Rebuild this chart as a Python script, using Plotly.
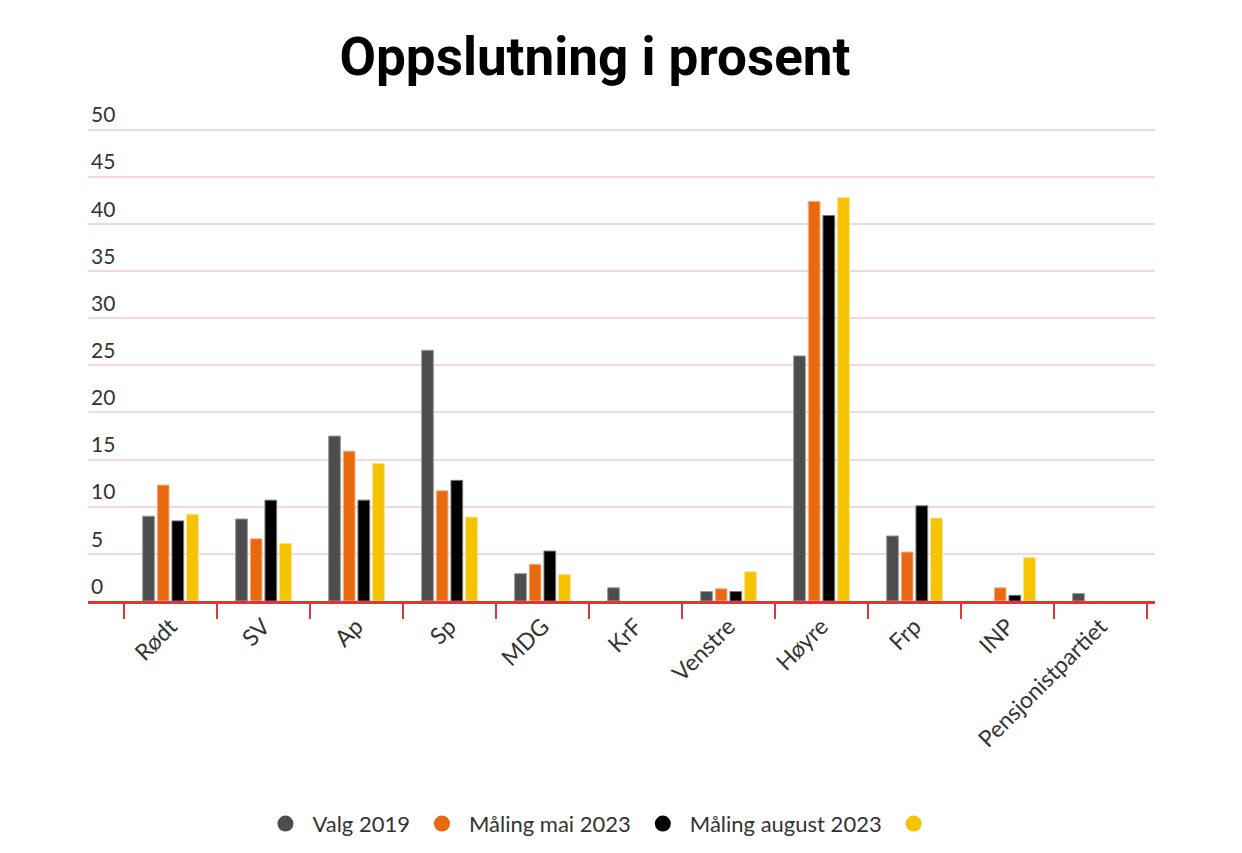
import plotly.graph_objects as go

categories = ["Rødt", "SV", "Ap", "Sp", "MDG", "KrF", "Venstre", "Høyre", "Frp", "INP", "Pensjonistpartiet"]
series_names = ["Valg 2019", "Måling mai 2023", "Måling august 2023", ""]
valg_2019 = [9.0, 8.7, 17.5, 26.6, 2.9, 1.4, 1.0, 26.0, 6.9, None, 0.8]
maling_mai_2023 = [12.3, 6.6, 15.9, 11.7, 3.9, None, 1.3, 42.4, 5.2, 1.4, None]
maling_aug_2023 = [8.5, 10.7, 10.7, 12.8, 5.3, None, 1.0, 40.9, 10.1, 0.6, None]
serie_4 = [9.2, 6.1, 14.6, 8.9, 2.8, None, 3.1, 42.8, 8.8, 4.6, None]
y_ticks = [0, 5, 10, 15, 20, 25, 30, 35, 40, 45, 50]

colors = ["#4d4d4d", "#e8690f", "#000000", "#f5c300"]
outline = ["#9a9a9a", "#f6b48a", "#777777", "#fae08a"]
all_values = [valg_2019, maling_mai_2023, maling_aug_2023, serie_4]

fig = go.Figure()
for name, vals, c, oc in zip(series_names, all_values, colors, outline):
    fig.add_trace(go.Bar(
        x=categories, y=vals, name=name, showlegend=False,
        marker=dict(color=c, line=dict(color=oc, width=1)),
        hoverinfo="x+y",
    ))
# legend entries with circular symbols
for name, c in zip(series_names, colors):
    fig.add_trace(go.Scatter(
        x=[None], y=[None], mode="markers", name=name if name else " ",
        marker=dict(color=c, size=22, symbol="circle"),
        showlegend=True,
    ))

text_font = "Lato, 'Open Sans', 'Noto Sans', sans-serif"

fig.update_layout(
    width=1242, height=853,
    paper_bgcolor="white", plot_bgcolor="white",
    margin=dict(l=80, r=95, t=117, b=260),
    barmode="group", bargap=0.37, bargroupgap=0.2,
    title=dict(
        text="<b>Oppslutning i prosent</b>",
        font=dict(family="Roboto, 'Liberation Sans', sans-serif", size=53, color="#000000"),
        x=0.4726, xref="container", xanchor="center",
        y=0.9437, yref="container", yanchor="middle",
    ),
    font=dict(family=text_font, color="#333333", size=21),
    legend=dict(
        orientation="h", x=0.4845, xanchor="center", y=-0.468, yanchor="middle",
        font=dict(family=text_font, size=22, color="#333333"),
        itemsizing="trace", itemwidth=44,
    ),
    xaxis=dict(
        type="category",
        range=[-0.887, 10.586],
        showline=True, linecolor="#e0353a", linewidth=3,
        ticks="outside", tickson="boundaries", ticklen=15, tickcolor="#e0353a", tickwidth=1.5,
        tickangle=-45,
        tickfont=dict(family=text_font, size=23, color="#333333"),
        showgrid=False, fixedrange=True,
    ),
    yaxis=dict(
        range=[0, 50.5],
        tickvals=y_ticks,
        showgrid=True, gridcolor="#f9d6d6", gridwidth=2,
        zeroline=False, showline=False,
        ticklabelposition="inside top", ticklabeloverflow="allow",
        tickfont=dict(family=text_font, size=21, color="#333333"),
        fixedrange=True,
    ),
)

fig.write_html("out.html")
